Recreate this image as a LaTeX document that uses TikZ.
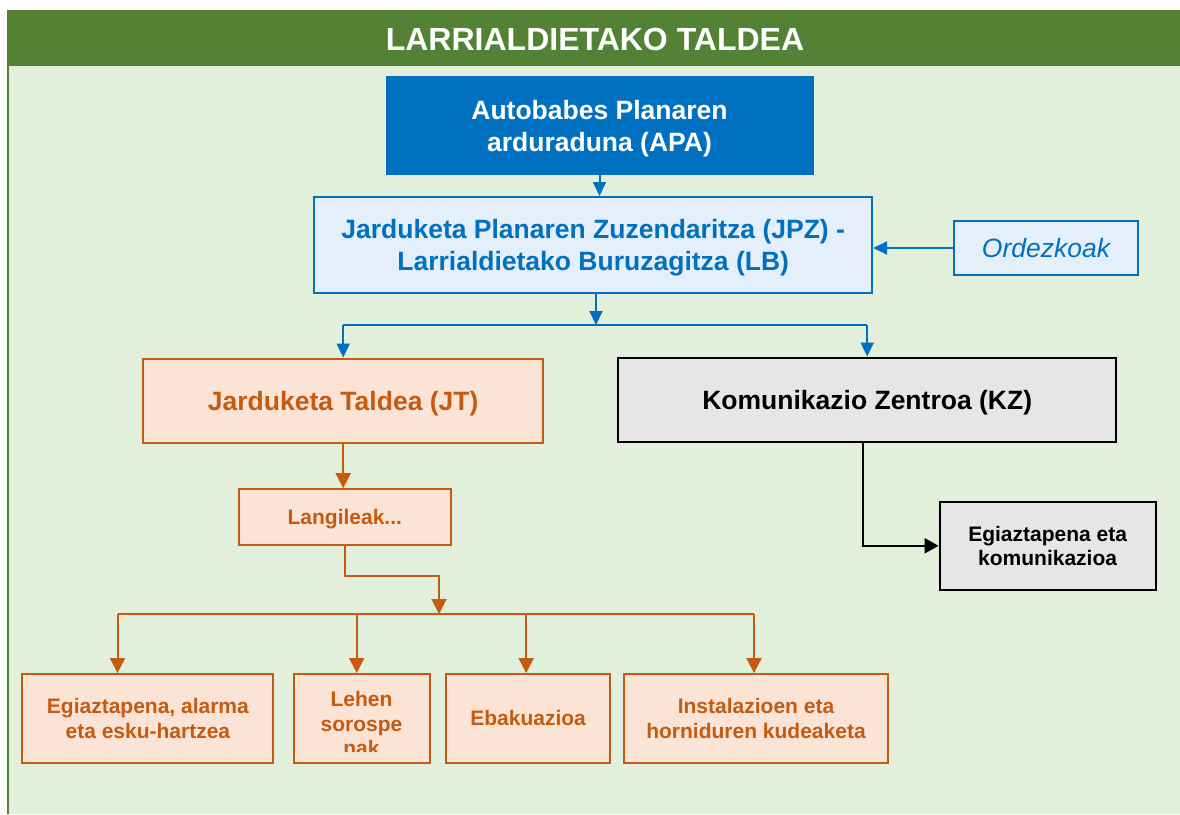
\documentclass[tikz,border=0pt]{standalone}
\usepackage{fontspec}
\setmainfont{Liberation Sans}
\usetikzlibrary{arrows.meta}
\definecolor{hgreen}{HTML}{548235}
\definecolor{bodyg}{HTML}{E2EFDA}
\definecolor{myblue}{HTML}{0070C0}
\definecolor{lblue}{HTML}{E4EFF9}
\definecolor{orng}{HTML}{C55A11}
\definecolor{peach}{HTML}{FBE4D5}
\definecolor{lgray}{HTML}{E6E6E6}
\newcommand\myBig{\fontsize{26.5}{31.5}\selectfont\bfseries}
\newcommand\mySmall{\fontsize{21}{24.3}\selectfont\bfseries}
\newcommand\myTitle{\fontsize{32}{38}\selectfont\bfseries}
\begin{document}
\begin{tikzpicture}[x=1pt,y=-1pt,
  box/.style={draw, line width=2pt, inner sep=0pt, align=center, text depth=0pt},
  apa/.style={box, draw=myblue, fill=myblue, text=white, font=\myBig},
  jpz/.style={box, draw=myblue, fill=lblue, text=myblue, font=\myBig},
  ord/.style={box, draw=myblue, fill=lblue, text=myblue, font=\fontsize{26.5}{31.5}\selectfont\itshape},
  jt/.style={box, draw=orng, fill=peach, text=orng, font=\myBig},
  sm/.style={box, draw=orng, fill=peach, text=orng, font=\mySmall},
  kz/.style={box, draw=black, fill=lgray, text=black, font=\myBig},
  ek/.style={box, draw=black, fill=lgray, text=black, font=\mySmall},
  ttl/.style={inner sep=0pt, text=white, font=\myTitle},
  barrow/.style={draw=myblue, line width=2pt, -{Triangle[length=14pt,width=13pt]}},
  bline/.style={draw=myblue, line width=1.6pt},
  oarrow/.style={draw=orng, line width=2pt, -{Triangle[length=15pt,width=15pt]}},
  oline/.style={draw=orng, line width=2pt},
  karrow/.style={draw=black, line width=2pt, -{Triangle[length=14pt,width=15pt]}}
]
\useasboundingbox (0,0) rectangle (1180,814);
\fill[white] (0,0) rectangle (1180,814);
\fill[bodyg] (8,66) rectangle (1180,814);
\fill[hgreen] (8,10) rectangle (1180,66);
\draw[hgreen, line width=2.2pt] (8,10) -- (8,814);
\node[ttl] (title) at (595,39) {LARRIALDIETAKO TALDEA};

% top part
\node[apa, minimum width=426pt, minimum height=97pt] (APA) at (599.5,125.7) {Autobabes Planaren\\arduraduna (APA)};
\node[jpz, minimum width=558pt, minimum height=96pt] (JPZ) at (593.2,245) {Jarduketa Planaren Zuzendaritza (JPZ) -\\Larrialdietako Buruzagitza (LB)};
\node[ord, minimum width=184pt, minimum height=54pt] (ORD) at (1046,248) {Ordezkoak};

% second level
\node[jt, minimum width=400pt, minimum height=84pt] (JT) at (343.2,400.5) {Jarduketa Taldea (JT)};
\node[kz, minimum width=498pt, minimum height=84pt] (KZ) at (867.2,399.5) {Komunikazio Zentroa (KZ)};
\node[sm, minimum width=212pt, minimum height=56pt] (LANG) at (344.8,517.2) {Langileak...};
\node[ek, minimum width=216pt, minimum height=88pt] (EK) at (1047.6,545.8) {Egiaztapena eta\\komunikazioa};

% bottom boxes
\node[sm, minimum width=251pt, minimum height=88.5pt] (B1) at (147.9,718.3) {Egiaztapena, alarma\\eta esku-hartzea};
\node[sm, minimum width=136pt, minimum height=88.5pt] (B2) at (361.5,718.3) {};
\begin{scope}
  \clip (294,675) rectangle (429,751.5);
  \node[inner sep=0pt, align=center, text=orng, font=\mySmall] (B2t) at (361.5,723.5) {Lehen\\sorospe\\nak};
\end{scope}
\node[sm, minimum width=164pt, minimum height=88.5pt] (B3) at (528.1,718.3) {Ebakuazioa};
\node[sm, minimum width=264pt, minimum height=88.5pt] (B4) at (756,718.3) {Instalazioen eta\\horniduren kudeaketa};

% blue connectors
\coordinate (bT) at (596,325);
\draw[barrow] (APA.south) -- (APA.south |- JPZ.north);
\draw[barrow] (ORD.west) -- (ORD.west -| JPZ.east);
\draw[barrow] (bT |- JPZ.south) -- (bT);
\draw[bline] (JT.north |- bT) -- (KZ.north |- bT);
\draw[barrow] (JT.north |- bT) -- (JT.north);
\draw[barrow] (KZ.north |- bT) -- (KZ.north);

% orange connectors
\coordinate (obend) at (439,575.5);
\coordinate (obus) at (439,614);
\coordinate (d1) at (117.5,614);
\coordinate (d2) at (356.7,614);
\coordinate (d3) at (526.2,614);
\coordinate (d4) at (754,614);
\draw[oarrow] (JT.south) -- (JT.south |- LANG.north);
\draw[oarrow] (LANG.south) |- (obend) -- (obus);
\draw[oline] (d1) -- (d4);
\draw[oarrow] (d1) -- (d1 |- B1.north);
\draw[oarrow] (d2) -- (d2 |- B2.north);
\draw[oarrow] (d3) -- (d3 |- B3.north);
\draw[oarrow] (d4) -- (d4 |- B4.north);

% black connector
\coordinate (kx) at (863,0);
\draw[karrow] (kx |- KZ.south) |- (EK.west);
\end{tikzpicture}
\end{document}
